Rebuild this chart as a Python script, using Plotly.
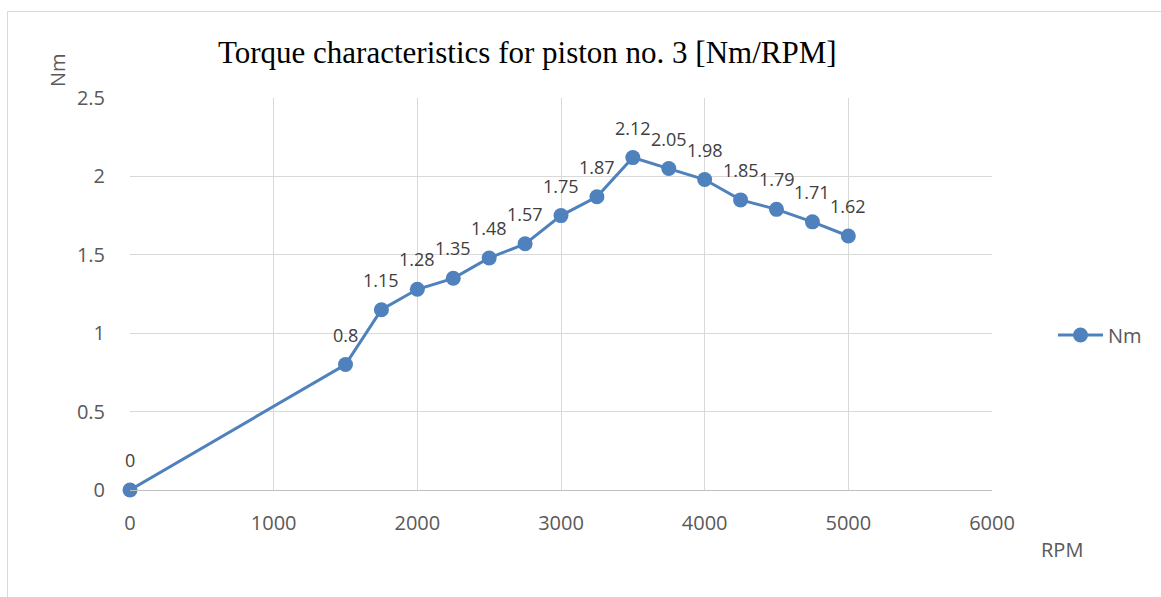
import plotly.graph_objects as go

rpm = [0, 1500, 1750, 2000, 2250, 2500, 2750, 3000, 3250, 3500, 3750, 4000, 4250, 4500, 4750, 5000]
nm = [0, 0.8, 1.15, 1.28, 1.35, 1.48, 1.57, 1.75, 1.87, 2.12, 2.05, 1.98, 1.85, 1.79, 1.71, 1.62]
labels = ["0", "0.8", "1.15", "1.28", "1.35", "1.48", "1.57", "1.75", "1.87", "2.12", "2.05", "1.98", "1.85", "1.79", "1.71", "1.62"]

W, H = 1161, 597
ML, MR, MT, MB = 130, 169, 98, 107
PW, PH = W - ML - MR, H - MT - MB

def px(x):
    return (x - ML) / PW

def py(y):
    return (H - MB - y) / PH

color = "#4f81bd"
FAM = "Open Sans, Liberation Sans, sans-serif"
tick_font = dict(family=FAM, size=20, color="#595959")

fig = go.Figure()
fig.add_trace(go.Scatter(
    x=rpm, y=nm, mode="lines+markers", name="Nm",
    line=dict(color=color, width=3),
    marker=dict(color=color, size=15),
    cliponaxis=False,
))

for x, y, t in zip(rpm, nm, labels):
    fig.add_annotation(x=x, y=y, text=t, showarrow=False, yshift=30,
                       xanchor="center", yanchor="middle",
                       font=dict(family=FAM, size=18, color="#404040"))

fig.add_annotation(xref="paper", yref="paper", x=px(527), y=py(52), xanchor="center", yanchor="middle",
                   text="Torque characteristics for piston no. 3 [Nm/RPM]",
                   showarrow=False, font=dict(family="Liberation Serif, Times New Roman, serif", size=31, color="black"))
fig.add_annotation(xref="paper", yref="paper", x=px(57), y=py(70), xanchor="center", yanchor="middle",
                   text="Nm", textangle=-90,
                   showarrow=False, font=tick_font)
fig.add_annotation(xref="paper", yref="paper", x=px(1062), y=py(549), xanchor="center", yanchor="middle",
                   text="RPM", showarrow=False, font=tick_font)

# outer chart border
fig.add_shape(type="rect", xref="paper", yref="paper", x0=px(7.5), y0=py(620), x1=px(1200), y1=py(11.5),
              line=dict(color="#d9d9d9", width=1), fillcolor="rgba(0,0,0,0)", layer="below")

fig.update_layout(
    width=W, height=H,
    margin=dict(l=ML, r=MR, t=MT, b=MB),
    paper_bgcolor="white", plot_bgcolor="white",
    showlegend=True,
    legend=dict(x=px(1053), y=py(335), xanchor="left", yanchor="middle", font=tick_font,
                bgcolor="rgba(0,0,0,0)", itemwidth=45),
    xaxis=dict(range=[0, 6000], dtick=1000, showgrid=True, gridcolor="#d9d9d9", gridwidth=1,
               zeroline=False, showline=True, linecolor="#bfbfbf", linewidth=1,
               ticks="outside", ticklen=15, tickcolor="rgba(0,0,0,0)", tickfont=tick_font),
    yaxis=dict(range=[0, 2.5], dtick=0.5, showgrid=True, gridcolor="#d9d9d9", gridwidth=1,
               zeroline=False, showline=False,
               ticks="outside", ticklen=20, tickcolor="rgba(0,0,0,0)", tickfont=tick_font,
               tickformat="~g"),
)

fig.write_html("out.html")
